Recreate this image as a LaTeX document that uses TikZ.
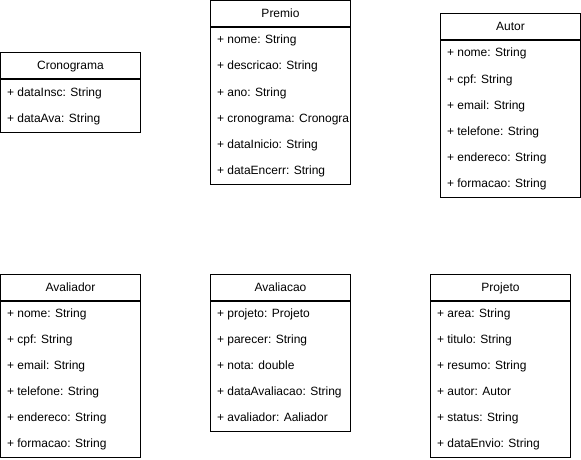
\documentclass[tikz,border=0pt]{standalone}
\usepackage{fontspec}
\setmainfont{Liberation Sans}
\begin{document}
\begin{tikzpicture}[x=1pt,y=-1pt,line width=1pt,
    cab/.style={draw,rectangle,minimum width=140pt,minimum height=26pt,inner sep=0pt,
        text height=11pt,text depth=3pt,font=\fontsize{12}{14}\selectfont},
    corpo/.style={draw,rectangle,minimum width=140pt,anchor=north,inner sep=0pt},
    attr/.style={anchor=west,inner sep=0pt,text height=11pt,text depth=3pt,
        font=\fontsize{12}{14}\selectfont}]
    \useasboundingbox (0,0) rectangle (581,460);
    % Cronograma
    \node[cab] (cron) at (70.5,66) {Cronograma};
    \node[corpo,minimum height=52pt] (cronb) at (cron.south) {};
    \foreach \t [count=\i] in {+ dataInsc: String, + dataAva: String}
        \node[attr] (cron\i) at (6.5,66+26*\i) {\t};
    % Premio
    \node[cab] (prem) at (280.5,14) {Premio};
    \node[corpo,minimum height=156pt] (premb) at (prem.south) {};
    \foreach \t [count=\i] in {+ nome: String, + descricao: String, + ano: String,
        + cronograma: Cronogra, + dataInicio: String, + dataEncerr: String}
        \node[attr] (prem\i) at (216.5,14+26*\i) {\t};
    % Autor
    \node[cab] (aut) at (510.5,27) {Autor};
    \node[corpo,minimum height=156pt] (autb) at (aut.south) {};
    \foreach \t [count=\i] in {+ nome: String, + cpf: String, + email: String,
        + telefone: String, + endereco: String, + formacao: String}
        \node[attr] (aut\i) at (446.5,27+26*\i) {\t};
    % Avaliador
    \node[cab] (avr) at (70.5,287) {Avaliador};
    \node[corpo,minimum height=156pt] (avrb) at (avr.south) {};
    \foreach \t [count=\i] in {+ nome: String, + cpf: String, + email: String,
        + telefone: String, + endereco: String, + formacao: String}
        \node[attr] (avr\i) at (6.5,287+26*\i) {\t};
    % Avaliacao
    \node[cab] (avc) at (280.5,287) {Avaliacao};
    \node[corpo,minimum height=130pt] (avcb) at (avc.south) {};
    \foreach \t [count=\i] in {+ projeto: Projeto, + parecer: String, + nota: double,
        + dataAvaliacao: String, + avaliador: Aaliador}
        \node[attr] (avc\i) at (216.5,287+26*\i) {\t};
    % Projeto
    \node[cab] (proj) at (500.5,287) {Projeto};
    \node[corpo,minimum height=156pt] (projb) at (proj.south) {};
    \foreach \t [count=\i] in {+ area: String, + titulo: String, + resumo: String,
        + autor: Autor, + status: String, + dataEnvio: String}
        \node[attr] (proj\i) at (436.5,287+26*\i) {\t};
\end{tikzpicture}
\end{document}
